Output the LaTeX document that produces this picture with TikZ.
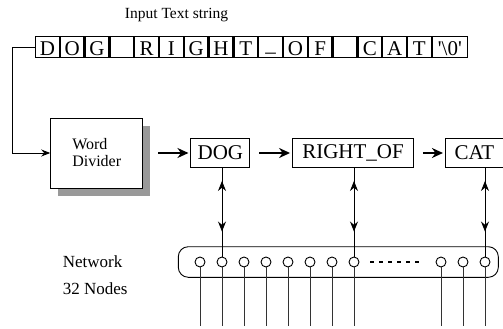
\documentclass[tikz,border=0pt]{standalone}
\usepackage{fontspec}
\setmainfont{Liberation Serif}
\usetikzlibrary{arrows.meta,positioning,shadows,decorations.markings}

\begin{document}
\begin{tikzpicture}[x=1pt, y=-1pt, >={Stealth[length=9pt,width=7pt]}, line width=0.9pt,
  cell/.style={draw, line width=1.2pt, inner sep=0pt, minimum width=23.6pt, minimum height=21pt,
    text height=19.5pt, text depth=1.5pt, font=\fontsize{21}{21}\selectfont},
  word/.style={draw, inner sep=0pt, minimum height=29pt, font=\fontsize{21}{21}\selectfont},
  bus/.style={draw, circle, inner sep=0pt, minimum size=10pt, fill=white},
  tag/.style={anchor=west, font=\fontsize{17}{17}\selectfont},
  fat/.style={-{Stealth[length=11pt,width=10pt]}, line width=2pt, shorten <=9pt, shorten >=2pt},
  link/.style={postaction={decorate}, decoration={markings,
    mark=at position 13pt with {\arrowreversed{Stealth[length=10pt,width=8pt]}},
    mark=at position -25pt with {\arrow{Stealth[length=10pt,width=8pt]}}}}]

\useasboundingbox (0,0) rectangle (503,329);

\node[font=\fontsize{15.5}{16}\selectfont] (title) at (176.5,15) {Input Text string};

% input string
\node[cell, anchor=west] (c1) at (35,47) {D};
\foreach \ch [count=\i from 2] in {O,G,{},R,I,G,H,T,{\raisebox{4.5pt}{\_}},O,F,{},C,A,T} {
  \pgfmathtruncatemacro{\j}{\i-1}
  \node[cell, right=0pt of c\j] (c\i) {\ch};
}
\node[cell, minimum width=35pt, right=0pt of c16] (c17) {\textquotesingle\textbackslash 0\textquotesingle};

% divider and words
\node[draw, fill=white, minimum width=92pt, minimum height=70pt, align=left,
  font=\fontsize{16}{17}\selectfont,
  drop shadow={shadow xshift=7pt, shadow yshift=-8pt, fill=black!40, opacity=1}] (wd) at (96.7,153) {Word\\Divider};
\node[word, minimum width=59pt, right=47.3pt of wd] (dog) {DOG};
\node[word, minimum width=121pt, right=41.7pt of dog] (rel) {RIGHT\_OF};
\node[word, minimum width=58pt, right=31pt of rel] (cat) {CAT};

\draw[->] (c1.west) -- ++(-23,0) |- (wd.west);
\draw[fat, shorten <=15pt] (wd.east) -- (dog.west);
\draw[fat] (dog.east) -- (rel.west);
\draw[fat] (rel.east) -- (cat.west);

% network
\node[draw, rounded corners=10pt, minimum width=320pt, minimum height=30.6pt] (net) at (338.3,262) {};
\foreach \i in {1,...,8}
  \node[bus] (n\i) at (178+22*\i, 262) {};
\foreach \i/\x in {9/441,10/463,11/485}
  \node[bus] (n\i) at (\x, 262) {};

\coordinate (bottom) at (0,326);
\foreach \i in {1,...,11}
  \draw[black!80] (n\i.south) -- (n\i.south |- bottom);
\draw[line width=2.4pt, dash pattern=on 4pt off 5pt, shorten <=11pt, shorten >=13pt] (n8.east) -- (n9.west);

\draw[link] (dog.south -| n2) -- (n2.north);
\draw[link] (rel.south -| n8) -- (n8.north);
\draw[link] (cat.south -| n11) -- (n11.north);

\node[tag] (lbl) at (59,262) {Network};
\node[tag] (cnt) at (59,289) {32 Nodes};
\end{tikzpicture}
\end{document}
